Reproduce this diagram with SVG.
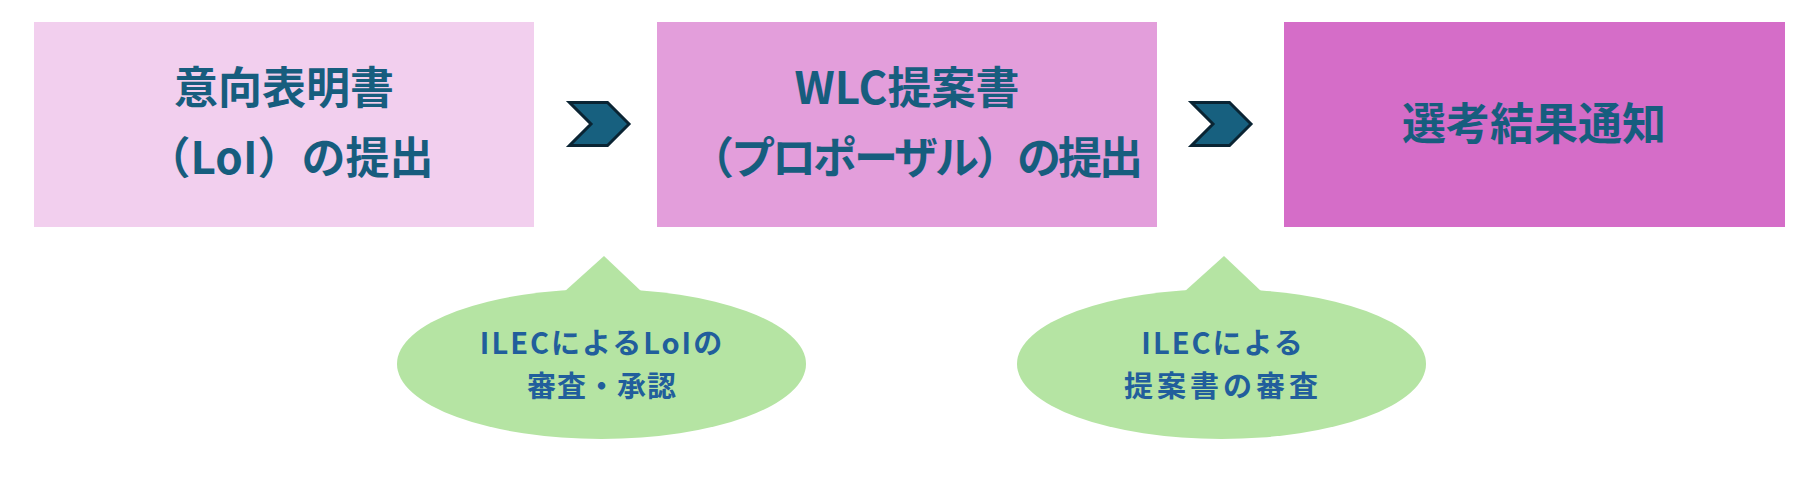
<svg xmlns="http://www.w3.org/2000/svg" width="1814" height="483" viewBox="0 0 1814 483">
<style>
.main{font-family:"Noto Sans CJK JP","Noto Sans",sans-serif;font-weight:bold;font-size:44px;fill:#175d7e;text-anchor:middle}
.call{font-family:"Noto Sans CJK JP","Noto Sans",sans-serif;font-weight:bold;font-size:29px;fill:#215e9c;text-anchor:middle}
.bubble{fill:#b5e4a3}
.chev{fill:#17607f;stroke:#0a2433;stroke-width:3;stroke-linejoin:miter}
</style>
<rect x="0" y="0" width="1814" height="483" fill="#ffffff"/>
<g id="step1">
<rect x="34" y="22" width="500" height="205" fill="#f2cfee"/>
<text class="main" x="284" y="104">意向表明書</text>
<text class="main" x="290" y="174">（LoI）の提出</text>
</g>
<g id="step2">
<rect x="657" y="22" width="500" height="205" fill="#e39edb"/>
<text class="main" x="907" y="104">WLC提案書</text>
<text class="main" x="915" y="174" letter-spacing="-3">（プロポーザル）の提出</text>
</g>
<g id="step3">
<rect x="1284" y="22" width="501" height="205" fill="#d56dc8"/>
<text class="main" x="1534" y="140">選考結果通知</text>
</g>
<g id="connectors">
<polygon class="chev" points="569.5,102.5 607.5,102.5 629,124 607.5,145.5 569.5,145.5 591,124"/>
<polygon class="chev" points="1191.5,102.5 1229.5,102.5 1251,124 1229.5,145.5 1191.5,145.5 1213,124"/>
</g>
<g id="callout1">
<ellipse class="bubble" cx="601.5" cy="364" rx="204.5" ry="75"/>
<polygon class="bubble" points="604,256 564,292 642,292"/>
<text class="call" x="602" y="354" letter-spacing="2">ILECによるLoIの</text>
<text class="call" x="602" y="397" letter-spacing="1">審査・承認</text>
</g>
<g id="callout2">
<ellipse class="bubble" cx="1221.5" cy="364" rx="204.5" ry="75"/>
<polygon class="bubble" points="1224,256 1184,292 1262,292"/>
<text class="call" x="1223" y="354" letter-spacing="2">ILECによる</text>
<text class="call" x="1223" y="397" letter-spacing="4">提案書の審査</text>
</g>
</svg>
